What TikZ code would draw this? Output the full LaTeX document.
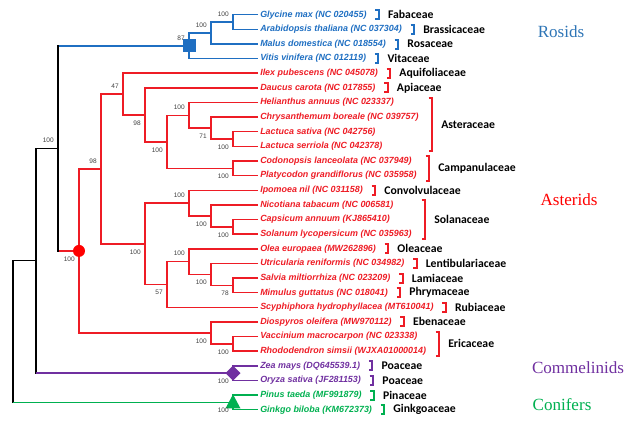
\documentclass[tikz,border=0pt]{standalone}
\usepackage{fontspec}
\setmainfont{Liberation Sans}
\newfontfamily\famfont{Carlito}
\newfontfamily\grpfont{Liberation Serif}
\usetikzlibrary{calc}
\definecolor{rblue}{HTML}{1F6FC2}
\definecolor{gblue}{HTML}{2E75B6}
\definecolor{rred}{HTML}{EE1C25}
\definecolor{rpurple}{HTML}{7030A0}
\definecolor{rgreen}{HTML}{00B050}
\definecolor{bsgray}{HTML}{404040}
\newcommand\sbr[3]{%
  \draw[brk,#2] ($(#1.east)+(8.5,-4.5)$) -- ++(3.5,0) -- ++(0,9) -- ++(-3.5,0);
  \node[fam] (f#1) at ($(#1.east)+(21,0)$) {#3};}
\newcommand\mbr[6]{% top node, bottom node, x, color, label, name
  \draw[brk,#4] ($(#3,0 |- #1)+(-3.5,-5)$) -- ($(#3,0 |- #1)+(0,-5)$) -- ($(#3,0 |- #2)+(0,5)$) -- ($(#3,0 |- #2)+(-3.5,5)$);
  \coordinate (#6c) at ($(#3,0 |- #1)!0.5!(#3,0 |- #2)$);
  \node[fam] (#6) at ($(#6c)+(9,0)$) {#5};}
\begin{document}
\begin{tikzpicture}[x=0.75pt,y=-0.75pt,
  edge/.style={line width=1.1pt},
  vedge/.style={line width=1.1pt,line cap=rect},
  sp/.style={anchor=west,inner sep=0pt,font=\fontsize{6.7}{8}\selectfont\bfseries\itshape},
  fam/.style={anchor=west,inner sep=0pt,font=\famfont\fontsize{8.8}{10}\selectfont\bfseries},
  bs/.style={anchor=east,inner sep=0pt,text=bsgray,font=\fontsize{4.9}{5}\selectfont},
  grp/.style={inner sep=0pt,font=\grpfont\fontsize{12.8}{14}\selectfont},
  brk/.style={line width=1.5pt}]
\useasboundingbox (0,0) rectangle (632,430);
% leaves
\foreach \i/\y in {1/14.7,2/29.3,3/44.0,4/58.6,5/73.2,6/87.9,7/102.5,8/117.1,9/131.7,10/146.4,11/161.0,12/175.6,13/190.3,14/204.9,15/219.5,16/234.2,17/248.8,18/263.4,19/278.0,20/292.7,21/307.3,22/321.9,23/336.6,24/351.2,25/365.8,26/380.5,27/395.1,28/409.7}
  {\coordinate (L\i) at (258,\y);}
% internal nodes
\coordinate (nGA) at (233,22.0);
\coordinate (nGAM) at (211,33.0);
\coordinate (nRos) at (189,45.8);
\coordinate (nLac) at (233,139.05);
\coordinate (nCLac) at (211,128.1);
\coordinate (nAst) at (189,115.3);
\coordinate (nCamp) at (233,168.3);
\coordinate (nAsl) at (167,141.8);
\coordinate (nApi) at (145,114.85);
\coordinate (nAqui) at (123,94.0);
\coordinate (nCS) at (233,226.85);
\coordinate (nSol) at (211,215.9);
\coordinate (nSoln) at (189,203.1);
\coordinate (nSM) at (233,285.35);
\coordinate (nUSM) at (211,274.4);
\coordinate (nLami) at (189,261.6);
\coordinate (nLG) at (167,284.45);
\coordinate (nLamiids) at (145,243.8);
\coordinate (nCore) at (101,168.9);
\coordinate (nVR) at (233,343.9);
\coordinate (nEric) at (211,332.9);
\coordinate (nAstd) at (79,250.9);
\coordinate (nRA) at (58,148.35);
\coordinate (nZO) at (233,373.15);
\coordinate (nPG) at (233,402.4);
\coordinate (nAng) at (36,260.75);
\coordinate (nRoot) at (13,331.6);
% Rosids
\draw[edge,rblue] (L1) -| (nGA) |- (L2);
\draw[edge,rblue] (nGA) -| (nGAM) |- (L3);
\draw[edge,rblue] (nGAM) -| (nRos) |- (L4);
% Asterids
\draw[edge,rred] (L9) -| (nLac) |- (L10);
\draw[edge,rred] (L8) -| (nCLac) |- (nLac);
\draw[edge,rred] (L7) -| (nAst) |- (nCLac);
\draw[edge,rred] (L11) -| (nCamp) |- (L12);
\draw[edge,rred] (nAst) -| (nAsl) |- (nCamp);
\draw[edge,rred] (L6) -| (nApi) |- (nAsl);
\draw[edge,rred] (L5) -| (nAqui) |- (nApi);
\draw[edge,rred] (L15) -| (nCS) |- (L16);
\draw[edge,rred] (L14) -| (nSol) |- (nCS);
\draw[edge,rred] (L13) -| (nSoln) |- (nSol);
\draw[edge,rred] (L19) -| (nSM) |- (L20);
\draw[edge,rred] (L18) -| (nUSM) |- (nSM);
\draw[edge,rred] (L17) -| (nLami) |- (nUSM);
\draw[edge,rred] (nLami) -| (nLG) |- (L21);
\draw[edge,rred] (nSoln) -| (nLamiids) |- (nLG);
\draw[edge,rred] (nAqui) -| (nCore) |- (nLamiids);
\draw[edge,rred] (L23) -| (nVR) |- (L24);
\draw[edge,rred] (L22) -| (nEric) |- (nVR);
\draw[edge,rred] (nCore) -| (nAstd) |- (nEric);
% Commelinids, Conifers
\draw[edge,rpurple] (L25) -| (nZO) |- (L26);
\draw[edge,rgreen] (L27) -| (nPG) |- (L28);
% backbone
\draw[edge,rblue] (nRA |- nRos) -- (nRos);
\draw[edge,rred] (nRA |- nAstd) -- (nAstd);
\draw[vedge] (nRA |- nRos) -- (nRA |- nAstd);
\draw[edge] (nRA) -- (nAng |- nRA);
\draw[vedge] (nAng |- nRA) -- (nAng |- nZO);
\draw[edge,rpurple] (nAng |- nZO) -- (nZO);
\draw[edge] (nAng) -- (nRoot |- nAng);
\draw[vedge] (nRoot |- nAng) -- (nRoot |- nPG);
\draw[edge,rgreen] (nRoot |- nPG) -- (nPG);
% markers
\fill[rblue] ($(nRos)+(-6.5,-6.5)$) rectangle ($(nRos)+(6.5,6.5)$);
\fill[red] (nAstd) circle (6);
\fill[rpurple] ($(nZO)+(-7.5,0)$) -- ($(nZO)+(0,-7.5)$) -- ($(nZO)+(7.5,0)$) -- ($(nZO)+(0,7.5)$) -- cycle;
\fill[rgreen] ($(nPG)+(-7.5,6)$) -- ($(nPG)+(7.5,6)$) -- ($(nPG)+(0,-8)$) -- cycle;
% bootstrap values
\node[bs] (b1) at ($(nGA)+(-4,-8)$) {100};
\node[bs] (b2) at ($(nGAM)+(-4,-8)$) {100};
\node[bs] (b3) at ($(nRos)+(-4,-8)$) {87};
\node[bs] (b4) at ($(nAqui)+(-4,-8)$) {47};
\node[bs] (b5) at ($(nApi)+(-4,8)$) {98};
\node[bs] (b6) at ($(nAsl)+(-4,8)$) {100};
\node[bs] (b7) at ($(nAst)+(-4,-8)$) {100};
\node[bs] (b8) at ($(nCLac)+(-4,8)$) {71};
\node[bs] (b9) at ($(nLac)+(-4,8)$) {100};
\node[bs] (b10) at ($(nCamp)+(-4,8)$) {100};
\node[bs] (b11) at ($(nCore)+(-4,-8)$) {98};
\node[bs] (b12) at ($(nAstd)+(-4,8)$) {100};
\node[bs] (b13) at ($(nRA)+(-4,-8)$) {100};
\node[bs] (b14) at ($(nLamiids)+(-4,8)$) {100};
\node[bs] (b15) at ($(nSoln)+(-4,-8)$) {100};
\node[bs] (b16) at ($(nSol)+(-4,8)$) {100};
\node[bs] (b17) at ($(nCS)+(-4,8)$) {100};
\node[bs] (b18) at ($(nLG)+(-4,8)$) {57};
\node[bs] (b19) at ($(nLami)+(-4,-8)$) {100};
\node[bs] (b20) at ($(nUSM)+(-4,8)$) {100};
\node[bs] (b21) at ($(nSM)+(-4,8)$) {78};
\node[bs] (b22) at ($(nEric)+(-4,8)$) {100};
\node[bs] (b23) at ($(nVR)+(-4,8)$) {100};
\node[bs] (b24) at ($(nZO)+(-4,8)$) {100};
\node[bs] (b25) at ($(nPG)+(-4,8)$) {100};
% species labels
\node[sp,text=rblue] (t1) at ($(L1)+(2,0)$) {Glycine max (NC 020455)};
\node[sp,text=rblue] (t2) at ($(L2)+(2,0)$) {Arabidopsis thaliana (NC 037304)};
\node[sp,text=rblue] (t3) at ($(L3)+(2,0)$) {Malus domestica (NC 018554)};
\node[sp,text=rblue] (t4) at ($(L4)+(2,0)$) {Vitis vinifera (NC 012119)};
\node[sp,text=rred] (t5) at ($(L5)+(2,0)$) {Ilex pubescens (NC 045078)};
\node[sp,text=rred] (t6) at ($(L6)+(2,0)$) {Daucus carota (NC 017855)};
\node[sp,text=rred] (t7) at ($(L7)+(2,0)$) {Helianthus annuus (NC 023337)};
\node[sp,text=rred] (t8) at ($(L8)+(2,0)$) {Chrysanthemum boreale (NC 039757)};
\node[sp,text=rred] (t9) at ($(L9)+(2,0)$) {Lactuca sativa (NC 042756)};
\node[sp,text=rred] (t10) at ($(L10)+(2,0)$) {Lactuca serriola (NC 042378)};
\node[sp,text=rred] (t11) at ($(L11)+(2,0)$) {Codonopsis lanceolata (NC 037949)};
\node[sp,text=rred] (t12) at ($(L12)+(2,0)$) {Platycodon grandiflorus (NC 035958)};
\node[sp,text=rred] (t13) at ($(L13)+(2,0)$) {Ipomoea nil (NC 031158)};
\node[sp,text=rred] (t14) at ($(L14)+(2,0)$) {Nicotiana tabacum (NC 006581)};
\node[sp,text=rred] (t15) at ($(L15)+(2,0)$) {Capsicum annuum (KJ865410)};
\node[sp,text=rred] (t16) at ($(L16)+(2,0)$) {Solanum lycopersicum (NC 035963)};
\node[sp,text=rred] (t17) at ($(L17)+(2,0)$) {Olea europaea (MW262896)};
\node[sp,text=rred] (t18) at ($(L18)+(2,0)$) {Utricularia reniformis (NC 034982)};
\node[sp,text=rred] (t19) at ($(L19)+(2,0)$) {Salvia miltiorrhiza (NC 023209)};
\node[sp,text=rred] (t20) at ($(L20)+(2,0)$) {Mimulus guttatus (NC 018041)};
\node[sp,text=rred] (t21) at ($(L21)+(2,0)$) {Scyphiphora hydrophyllacea (MT610041)};
\node[sp,text=rred] (t22) at ($(L22)+(2,0)$) {Diospyros oleifera (MW970112)};
\node[sp,text=rred] (t23) at ($(L23)+(2,0)$) {Vaccinium macrocarpon (NC 023338)};
\node[sp,text=rred] (t24) at ($(L24)+(2,0)$) {Rhododendron simsii (WJXA01000014)};
\node[sp,text=rpurple] (t25) at ($(L25)+(2,0)$) {Zea mays (DQ645539.1)};
\node[sp,text=rpurple] (t26) at ($(L26)+(2,0)$) {Oryza sativa (JF281153)};
\node[sp,text=rgreen] (t27) at ($(L27)+(2,0)$) {Pinus taeda (MF991879)};
\node[sp,text=rgreen] (t28) at ($(L28)+(2,0)$) {Ginkgo biloba (KM672373)};
% family brackets
\sbr{t1}{rblue}{Fabaceae}
\sbr{t2}{rblue}{Brassicaceae}
\sbr{t3}{rblue}{Rosaceae}
\sbr{t4}{rblue}{Vitaceae}
\sbr{t5}{rred}{Aquifoliaceae}
\sbr{t6}{rred}{Apiaceae}
\mbr{L7}{L10}{432}{rred}{Asteraceae}{fAst}
\mbr{L11}{L12}{429}{rred}{Campanulaceae}{fCamp}
\sbr{t13}{rred}{Convolvulaceae}
\mbr{L14}{L16}{425}{rred}{Solanaceae}{fSol}
\sbr{t17}{rred}{Oleaceae}
\sbr{t18}{rred}{Lentibulariaceae}
\sbr{t19}{rred}{Lamiaceae}
\sbr{t20}{rred}{Phrymaceae}
\sbr{t21}{rred}{Rubiaceae}
\sbr{t22}{rred}{Ebenaceae}
\mbr{L23}{L24}{439}{rred}{Ericaceae}{fEric}
\sbr{t25}{rpurple}{Poaceae}
\sbr{t26}{rpurple}{Poaceae}
\sbr{t27}{rgreen}{Pinaceae}
\sbr{t28}{rgreen}{Ginkgoaceae}
% group labels
\node[grp,text=gblue] (gR) at (561,32) {Rosids};
\node[grp,text=red] (gA) at (569,200) {Asterids};
\node[grp,text=rpurple] (gC) at (578,368) {Commelinids};
\node[grp,text=rgreen] (gF) at (562,405) {Conifers};
\end{tikzpicture}
\end{document}
